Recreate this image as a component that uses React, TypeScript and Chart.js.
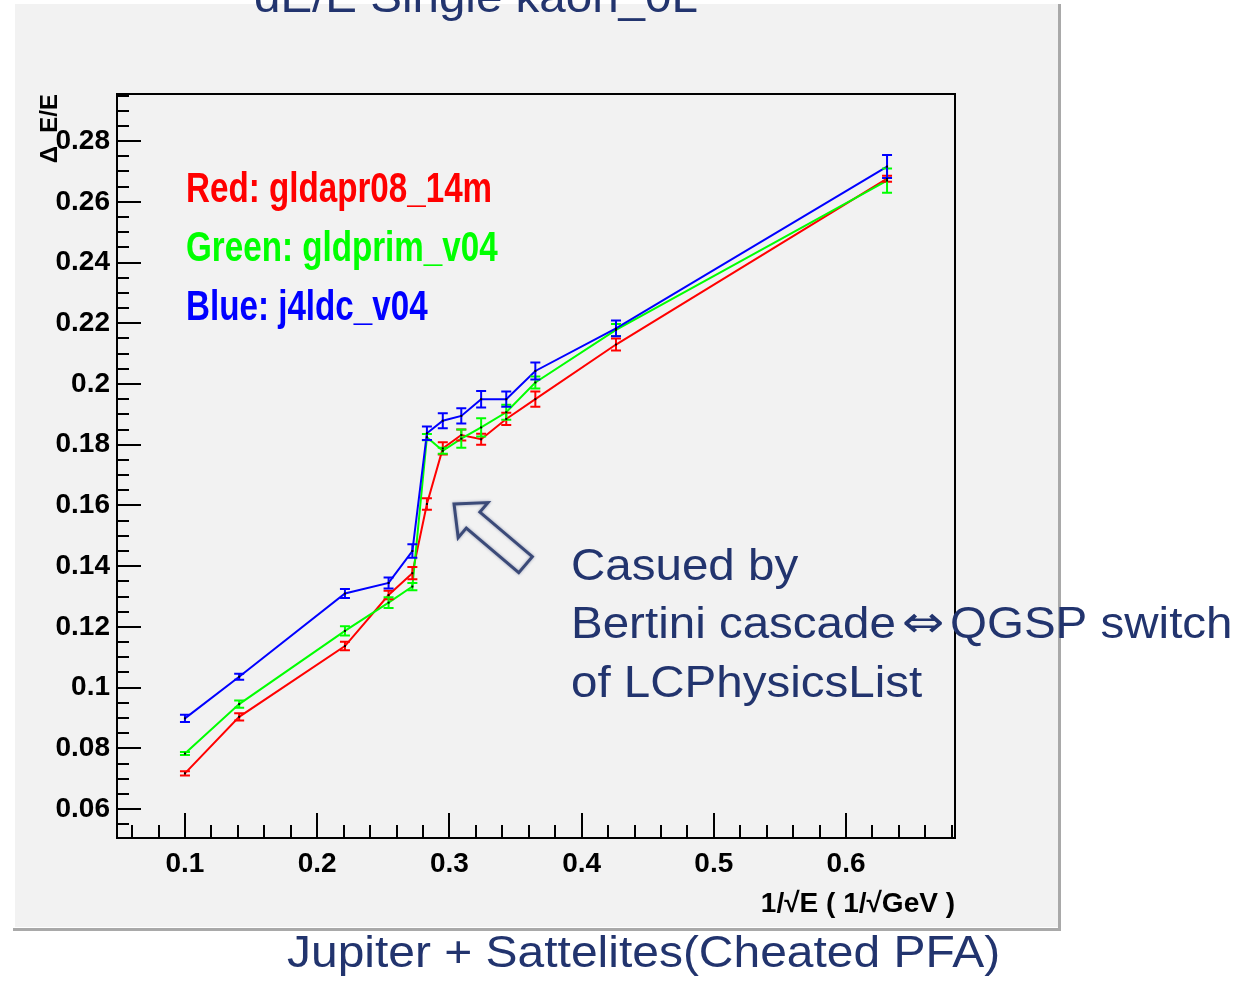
import React, { useEffect, useRef } from "react";
import { Chart, registerables } from "chart.js";

Chart.register(...registerables);

// ---------------- data ----------------
const xValues = [0.100, 0.141, 0.221, 0.254, 0.272, 0.283, 0.295, 0.309, 0.324, 0.343, 0.365, 0.426, 0.631];

const redValues = [0.0718, 0.0904, 0.1137, 0.1305, 0.1377, 0.1605, 0.1788, 0.1832, 0.1818, 0.1885, 0.1950, 0.2130, 0.2676];
const redErrors = [0.0007, 0.0012, 0.0014, 0.0014, 0.0020, 0.0019, 0.0020, 0.0018, 0.0018, 0.0020, 0.0025, 0.0020, 0.0010];

const greenValues = [0.0783, 0.0946, 0.1187, 0.1280, 0.1333, 0.1825, 0.1780, 0.1820, 0.1857, 0.1907, 0.2005, 0.2178, 0.2670];
const greenErrors = [0.0005, 0.0012, 0.0015, 0.0018, 0.0012, 0.0010, 0.0010, 0.0030, 0.0030, 0.0025, 0.0020, 0.0020, 0.0040];

const blueValues = [0.0899, 0.1036, 0.1310, 0.1345, 0.1450, 0.1838, 0.1879, 0.1895, 0.1950, 0.1950, 0.2043, 0.2183, 0.2716];
const blueErrors = [0.0012, 0.0010, 0.0015, 0.0018, 0.0022, 0.0022, 0.0025, 0.0025, 0.0027, 0.0025, 0.0028, 0.0026, 0.0038];

const xTickValues = [0.1, 0.2, 0.3, 0.4, 0.5, 0.6];
const xTickLabels = ["0.1", "0.2", "0.3", "0.4", "0.5", "0.6"];
const yTickValues = [0.06, 0.08, 0.1, 0.12, 0.14, 0.16, 0.18, 0.2, 0.22, 0.24, 0.26, 0.28];
const yTickLabels = ["0.06", "0.08", "0.1", "0.12", "0.14", "0.16", "0.18", "0.2", "0.22", "0.24", "0.26", "0.28"];

const seriesLabels = ["Red: gldapr08_14m", "Green: gldprim_v04", "Blue: j4ldc_v04"];
const seriesColors = ["#ff0000", "#00ff00", "#0000ff"];

const titleText = "dE/E Single kaon_0L";
const xTitle = "1/√E ( 1/√GeV )";
const yTitle = "Δ  E/E";
const footerText = "Jupiter + Sattelites(Cheated PFA)";
const noteLine1 = "Casued by";
const noteLine2a = "Bertini cascade";
const noteArrowGlyph = "⇔";
const noteLine2b = "QGSP switch";
const noteLine3 = "of LCPhysicsList";

const arrowTip = { x: 0.3035, y: 0.1605 };
const arrowTail = { x: 0.3576, y: 0.1405 };

// ---------------- layout / style ----------------
const X_MIN = 0.0486;
const X_MAX = 0.6824;
const Y_MIN = 0.0505;
const Y_MAX = 0.2955;
const NAVY = "#22346e";
const PAD_BG = "#f2f2f2";
const TICK_FONT = "'Liberation Sans Narrow', 'Liberation Sans', Arial, sans-serif";
const TEXT_FONT = "'Liberation Sans', Arial, sans-serif";

function drawScaledText(
  ctx: CanvasRenderingContext2D,
  text: string,
  x: number,
  y: number,
  font: string,
  color: string,
  sx: number,
  align: CanvasTextAlign = "left"
) {
  ctx.save();
  ctx.font = font;
  ctx.fillStyle = color;
  ctx.textAlign = align;
  ctx.textBaseline = "alphabetic";
  ctx.translate(x, y);
  ctx.scale(sx, 1);
  ctx.fillText(text, 0, 0);
  ctx.restore();
}

const decorPlugin = {
  id: "rootDecor",
  beforeDraw(chart: any) {
    const ctx: CanvasRenderingContext2D = chart.ctx;
    ctx.save();
    ctx.fillStyle = "#ffffff";
    ctx.fillRect(0, 0, chart.width, chart.height);
    ctx.fillStyle = PAD_BG;
    ctx.fillRect(15, 4, 1043, 923);
    ctx.strokeStyle = "#a9a9a9";
    ctx.lineWidth = 3;
    ctx.beginPath();
    ctx.moveTo(1059.5, 4);
    ctx.lineTo(1059.5, 929.5);
    ctx.lineTo(13, 929.5);
    ctx.stroke();
    ctx.restore();
  },
  afterDatasetsDraw(chart: any) {
    const ctx: CanvasRenderingContext2D = chart.ctx;
    const xs = chart.scales.x;
    const ys = chart.scales.y;
    ctx.save();
    chart.data.datasets.forEach((ds: any) => {
      ctx.strokeStyle = ds.borderColor;
      ctx.lineWidth = 2;
      ds.data.forEach((p: any, i: number) => {
        const e = ds.errors[i];
        const px = xs.getPixelForValue(p.x);
        const yt = ys.getPixelForValue(p.y + e);
        const yb = ys.getPixelForValue(p.y - e);
        ctx.beginPath();
        ctx.moveTo(px, yt);
        ctx.lineTo(px, yb);
        ctx.moveTo(px - 5, yt);
        ctx.lineTo(px + 5, yt);
        ctx.moveTo(px - 5, yb);
        ctx.lineTo(px + 5, yb);
        ctx.stroke();
      });
    });
    ctx.fillStyle = "#000";
    chart.data.datasets.forEach((ds: any) => {
      ds.data.forEach((p: any) => {
        const px = xs.getPixelForValue(p.x);
        const py = ys.getPixelForValue(p.y);
        ctx.fillRect(px - 1, py - 1, 2, 2);
      });
    });
    ctx.restore();
  },
  afterDraw(chart: any) {
    const ctx: CanvasRenderingContext2D = chart.ctx;
    const { left, right, top, bottom } = chart.chartArea;
    const xs = chart.scales.x;
    const ys = chart.scales.y;
    ctx.save();
    // frame
    ctx.strokeStyle = "#000";
    ctx.lineWidth = 2;
    ctx.strokeRect(left, top, right - left, bottom - top);
    // inner ticks
    ctx.beginPath();
    const yStep = 0.005;
    for (let k = Math.ceil(Y_MIN / yStep - 1e-9); k * yStep <= Y_MAX + 1e-9; k++) {
      const py = Math.round(ys.getPixelForValue(k * yStep));
      const len = k % 4 === 0 ? 24 : 12;
      ctx.moveTo(left, py);
      ctx.lineTo(left + len, py);
    }
    const xStep = 0.02;
    for (let k = Math.ceil(X_MIN / xStep - 1e-9); k * xStep <= X_MAX + 1e-9; k++) {
      const px = Math.round(xs.getPixelForValue(k * xStep));
      const len = k % 5 === 0 ? 25 : 13;
      ctx.moveTo(px, bottom);
      ctx.lineTo(px, bottom - len);
    }
    ctx.stroke();

    // legend texts inside the frame
    const legendBase = [202, 261, 320];
    seriesLabels.forEach((t, i) => {
      drawScaledText(ctx, t, 186, legendBase[i], `bold 42px ${TEXT_FONT}`, seriesColors[i], 0.79);
    });

    // title (cut at the top), footer and note
    drawScaledText(ctx, titleText, 254, 12, `44px ${TEXT_FONT}`, NAVY, 1.08);
    drawScaledText(ctx, footerText, 287, 967, `44px ${TEXT_FONT}`, NAVY, 1.09);
    drawScaledText(ctx, noteLine1, 571, 580, `44px ${TEXT_FONT}`, NAVY, 1.08);
    drawScaledText(ctx, noteLine2a, 571, 638, `44px ${TEXT_FONT}`, NAVY, 1.08);
    drawScaledText(ctx, noteArrowGlyph, 902, 637, `44px 'DejaVu Sans', sans-serif`, NAVY, 1.15);
    drawScaledText(ctx, noteLine2b, 950, 638, `44px ${TEXT_FONT}`, NAVY, 1.08);
    drawScaledText(ctx, noteLine3, 571, 697, `44px ${TEXT_FONT}`, NAVY, 1.08);

    // hollow arrow
    const tx = xs.getPixelForValue(arrowTip.x);
    const ty = ys.getPixelForValue(arrowTip.y);
    const bx = xs.getPixelForValue(arrowTail.x);
    const by = ys.getPixelForValue(arrowTail.y);
    const dx = tx - bx;
    const dy = ty - by;
    const len = Math.hypot(dx, dy);
    const ux = dx / len;
    const uy = dy / len;
    const nx = -uy;
    const ny = ux;
    const head = 25;
    const hw = 23;
    const sw = 10.5;
    const hx = tx - ux * head;
    const hy = ty - uy * head;
    ctx.beginPath();
    ctx.moveTo(tx, ty);
    ctx.lineTo(hx + nx * hw, hy + ny * hw);
    ctx.lineTo(hx + nx * sw, hy + ny * sw);
    ctx.lineTo(bx + nx * sw, by + ny * sw);
    ctx.lineTo(bx - nx * sw, by - ny * sw);
    ctx.lineTo(hx - nx * sw, hy - ny * sw);
    ctx.lineTo(hx - nx * hw, hy - ny * hw);
    ctx.closePath();
    ctx.strokeStyle = "#3b4a78";
    ctx.lineWidth = 3;
    ctx.lineJoin = "miter";
    ctx.shadowColor = "rgba(40,55,110,0.45)";
    ctx.shadowBlur = 3;
    ctx.stroke();
    ctx.restore();
  },
};

export default function App() {
  const canvasRef = useRef<HTMLCanvasElement | null>(null);

  useEffect(() => {
    const canvas = canvasRef.current;
    if (!canvas) return;
    const mk = (vals: number[]) => xValues.map((x, i) => ({ x, y: vals[i] }));
    const chart = new Chart(canvas, {
      type: "scatter",
      data: {
        datasets: [
          {
            label: seriesLabels[0],
            data: mk(redValues),
            errors: redErrors,
            borderColor: seriesColors[0],
            backgroundColor: seriesColors[0],
            showLine: true,
            borderWidth: 2,
            pointRadius: 0,
            order: 3,
          } as any,
          {
            label: seriesLabels[1],
            data: mk(greenValues),
            errors: greenErrors,
            borderColor: seriesColors[1],
            backgroundColor: seriesColors[1],
            showLine: true,
            borderWidth: 2,
            pointRadius: 0,
            order: 2,
          } as any,
          {
            label: seriesLabels[2],
            data: mk(blueValues),
            errors: blueErrors,
            borderColor: seriesColors[2],
            backgroundColor: seriesColors[2],
            showLine: true,
            borderWidth: 2,
            pointRadius: 0,
            order: 1,
          } as any,
        ],
      },
      options: {
        animation: false,
        responsive: false,
        devicePixelRatio: 1,
        layout: { padding: { left: 14, top: 94, right: 286, bottom: 52 } },
        plugins: {
          legend: { display: false },
          tooltip: { enabled: false },
          title: { display: false },
        },
        scales: {
          x: {
            type: "linear",
            position: "bottom",
            min: X_MIN,
            max: X_MAX,
            grid: { display: false, drawTicks: false },
            border: { display: false },
            afterBuildTicks: (axis: any) => {
              axis.ticks = xTickValues.map((v) => ({ value: v }));
            },
            afterFit: (scale: any) => {
              scale.height = 91;
            },
            ticks: {
              autoSkip: false,
              maxRotation: 0,
              minRotation: 0,
              padding: 9,
              color: "#000",
              font: { family: TICK_FONT, size: 28, weight: "bold" },
              callback: (_v: any, i: number) => xTickLabels[i],
            },
            title: {
              display: true,
              text: xTitle,
              align: "end",
              color: "#000",
              font: { family: TICK_FONT, size: 28, weight: "bold" },
              padding: { top: 0, bottom: 8 },
            },
          },
          y: {
            type: "linear",
            min: Y_MIN,
            max: Y_MAX,
            grid: { display: false, drawTicks: false },
            border: { display: false },
            afterBuildTicks: (axis: any) => {
              axis.ticks = yTickValues.map((v) => ({ value: v }));
            },
            afterFit: (scale: any) => {
              scale.width = 103;
            },
            ticks: {
              autoSkip: false,
              padding: 7,
              color: "#000",
              font: { family: TICK_FONT, size: 28, weight: "bold" },
              callback: (_v: any, i: number) => yTickLabels[i],
            },
            title: {
              display: true,
              text: yTitle,
              align: "end",
              color: "#000",
              font: { family: TICK_FONT, size: 24, weight: "bold" },
              padding: { top: 22, bottom: 0 },
            },
          },
        },
      } as any,
      plugins: [decorPlugin],
    });
    return () => chart.destroy();
  }, []);

  return (
    <div style={{ position: "absolute", left: 0, top: 0, width: 1241, height: 981, background: "#fff" }}>
      <canvas ref={canvasRef} width={1241} height={981} style={{ display: "block", width: 1241, height: 981 }} />
    </div>
  );
}
